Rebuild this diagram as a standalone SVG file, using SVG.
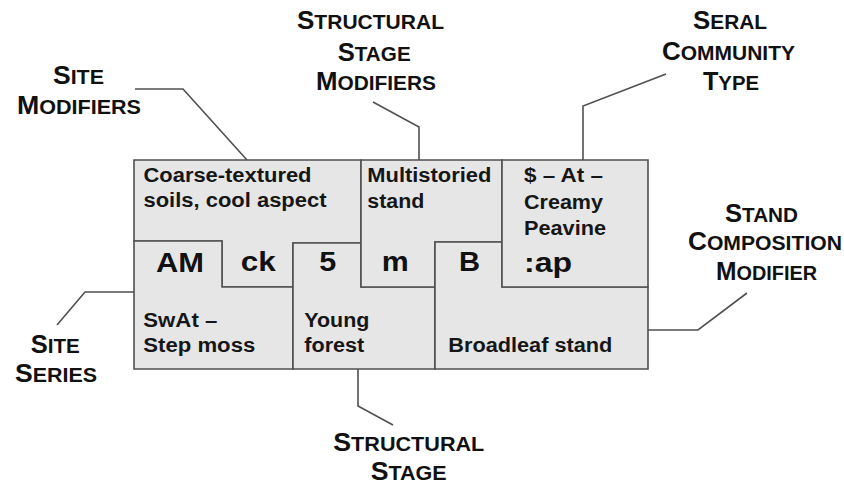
<svg xmlns="http://www.w3.org/2000/svg" width="844" height="487" viewBox="0 0 844 487">
<style>
.cell{fill:#e6e6e6;stroke:#505050;stroke-width:1.6;stroke-linejoin:miter}
.t{font-family:"Liberation Sans",Arial,sans-serif;font-weight:bold;font-size:20px;fill:#161616}
.c{font-family:"Liberation Sans",Arial,sans-serif;font-weight:bold;font-size:28px;fill:#111}
.lab{font-family:"Liberation Sans",Arial,sans-serif;font-weight:bold;font-size:21px;fill:#111}
.big{font-size:26px}
.conn{fill:none;stroke:#505050;stroke-width:1.6}
</style>
<rect width="844" height="487" fill="#fff"/>
<g id="connectors">
<polyline class="conn" points="135,89 183,89 247,160"/>
<polyline class="conn" points="373,102 419,127 419,160"/>
<polyline class="conn" points="666,74 583,106 583,160"/>
<polyline class="conn" points="648,330 698,330 747,293"/>
<polyline class="conn" points="134,292 85,292 57,325"/>
<polyline class="conn" points="358,369 358,406 393,425"/>
</g>
<g id="site-modifiers">
<polygon class="cell" points="134,160 361,160 361,243 293,243 293,287 222,287 222,241 134,241"/>
<text class="t" x="143.5" y="182" textLength="168" lengthAdjust="spacingAndGlyphs">Coarse-textured</text>
<text class="t" x="143.5" y="207" textLength="183" lengthAdjust="spacingAndGlyphs">soils, cool aspect</text>
<text class="c" x="240.7" y="271" textLength="35" lengthAdjust="spacingAndGlyphs">ck</text>
</g>
<g id="site-series">
<polygon class="cell" points="134,241 222,241 222,287 293,287 293,369 134,369"/>
<text class="c" x="156" y="271.5" textLength="48" lengthAdjust="spacingAndGlyphs">AM</text>
<text class="t" x="143.3" y="326.5" textLength="74" lengthAdjust="spacingAndGlyphs">SwAt –</text>
<text class="t" x="143.3" y="351.5" textLength="112" lengthAdjust="spacingAndGlyphs">Step moss</text>
</g>
<g id="structural-stage">
<polygon class="cell" points="293,243 361,243 361,287 435,287 435,369 293,369"/>
<text class="c" x="319.3" y="271" textLength="17" lengthAdjust="spacingAndGlyphs">5</text>
<text class="t" x="304.3" y="326.5" textLength="65" lengthAdjust="spacingAndGlyphs">Young</text>
<text class="t" x="304.3" y="351.5" textLength="60" lengthAdjust="spacingAndGlyphs">forest</text>
</g>
<g id="structural-stage-modifiers">
<polygon class="cell" points="361,160 502,160 502,242 435,242 435,287 361,287"/>
<text class="t" x="367.3" y="182" textLength="124" lengthAdjust="spacingAndGlyphs">Multistoried</text>
<text class="t" x="367.3" y="208" textLength="57" lengthAdjust="spacingAndGlyphs">stand</text>
<text class="c" x="381.7" y="271" textLength="27" lengthAdjust="spacingAndGlyphs">m</text>
</g>
<g id="stand-composition">
<polygon class="cell" points="435,242 502,242 502,287 648,287 648,369 435,369"/>
<text class="c" x="459" y="271" textLength="21" lengthAdjust="spacingAndGlyphs">B</text>
<text class="t" x="448.3" y="351.5" textLength="164" lengthAdjust="spacingAndGlyphs">Broadleaf stand</text>
</g>
<g id="seral-community">
<polygon class="cell" points="502,160 648,160 648,287 502,287"/>
<text class="t" x="524" y="182" textLength="79" lengthAdjust="spacingAndGlyphs">$ – At –</text>
<text class="t" x="524" y="208.5" textLength="79" lengthAdjust="spacingAndGlyphs">Creamy</text>
<text class="t" x="524" y="235" textLength="82" lengthAdjust="spacingAndGlyphs">Peavine</text>
<text class="c" x="524" y="271.5" textLength="48" lengthAdjust="spacingAndGlyphs">:ap</text>
</g>
<g id="label-site-modifiers">
<text class="lab" x="53" y="84" textLength="51" lengthAdjust="spacingAndGlyphs"><tspan class="big">S</tspan>ITE</text>
<text class="lab" x="17" y="114" textLength="124" lengthAdjust="spacingAndGlyphs"><tspan class="big">M</tspan>ODIFIERS</text>
</g>
<g id="label-structural-stage-modifiers">
<text class="lab" x="297" y="29" textLength="147" lengthAdjust="spacingAndGlyphs"><tspan class="big">S</tspan>TRUCTURAL</text>
<text class="lab" x="337.7" y="61" textLength="73" lengthAdjust="spacingAndGlyphs"><tspan class="big">S</tspan>TAGE</text>
<text class="lab" x="316" y="90" textLength="120" lengthAdjust="spacingAndGlyphs"><tspan class="big">M</tspan>ODIFIERS</text>
</g>
<g id="label-seral-community-type">
<text class="lab" x="693" y="29" textLength="74" lengthAdjust="spacingAndGlyphs"><tspan class="big">S</tspan>ERAL</text>
<text class="lab" x="662" y="60" textLength="133" lengthAdjust="spacingAndGlyphs"><tspan class="big">C</tspan>OMMUNITY</text>
<text class="lab" x="703" y="90" textLength="56" lengthAdjust="spacingAndGlyphs"><tspan class="big">T</tspan>YPE</text>
</g>
<g id="label-stand-composition-modifier">
<text class="lab" x="725" y="222" textLength="73" lengthAdjust="spacingAndGlyphs"><tspan class="big">S</tspan>TAND</text>
<text class="lab" x="688" y="250" textLength="154" lengthAdjust="spacingAndGlyphs"><tspan class="big">C</tspan>OMPOSITION</text>
<text class="lab" x="716" y="280" textLength="101" lengthAdjust="spacingAndGlyphs"><tspan class="big">M</tspan>ODIFIER</text>
</g>
<g id="label-site-series">
<text class="lab" x="30.7" y="353" textLength="49" lengthAdjust="spacingAndGlyphs"><tspan class="big">S</tspan>ITE</text>
<text class="lab" x="15" y="382" textLength="82" lengthAdjust="spacingAndGlyphs"><tspan class="big">S</tspan>ERIES</text>
</g>
<g id="label-structural-stage">
<text class="lab" x="333.3" y="450.5" textLength="151" lengthAdjust="spacingAndGlyphs"><tspan class="big">S</tspan>TRUCTURAL</text>
<text class="lab" x="370.7" y="480" textLength="76" lengthAdjust="spacingAndGlyphs"><tspan class="big">S</tspan>TAGE</text>
</g>
</svg>
